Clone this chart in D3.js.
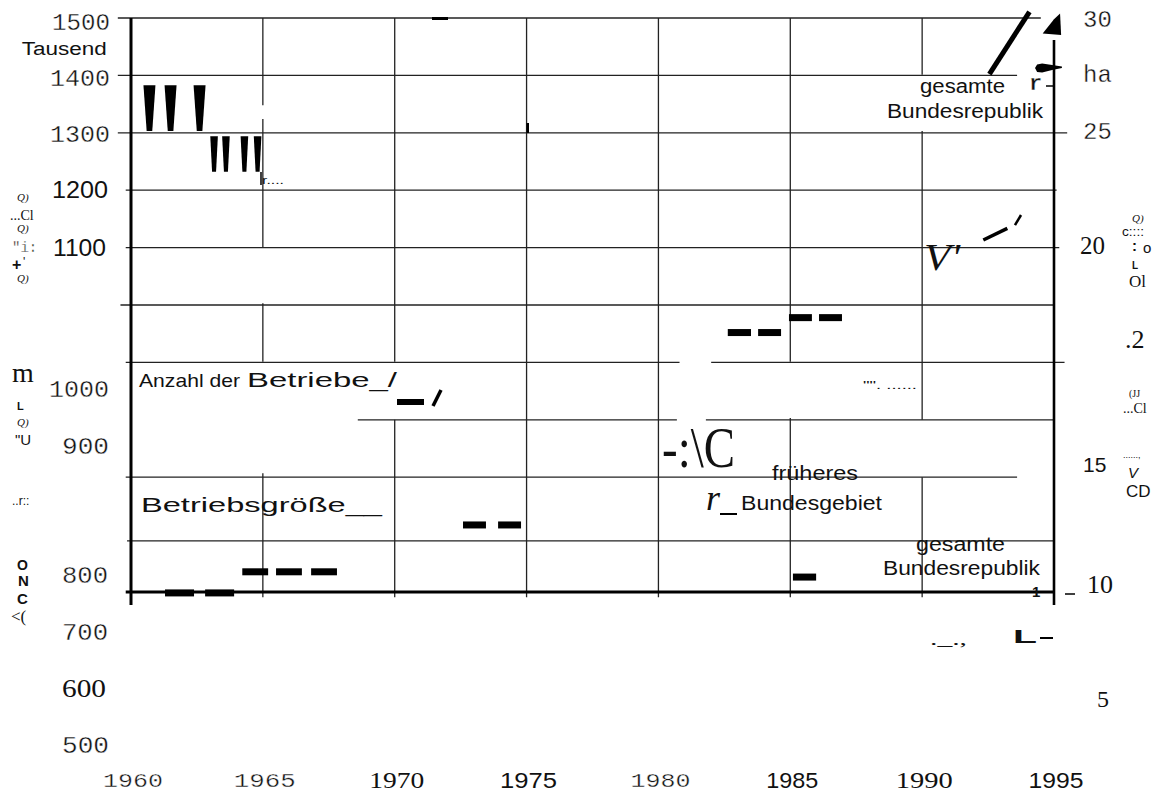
<!DOCTYPE html>
<html lang="de">
<head>
<meta charset="UTF-8">
<title>Betriebe und Betriebsgröße</title>
<script src="https://d3js.org/d3.v7.min.js"></script>
<style>
  body { margin: 0; background: #fff; }
  svg { display: block; }
  .grid line { stroke: #222; stroke-width: 1.3px; }
  .mono { font-family: "Liberation Mono", "DejaVu Sans Mono", monospace; stroke: #fff; stroke-width: 0.35px; }
  .sans { font-family: "Liberation Sans", Arial, sans-serif; }
  .serif { font-family: "Liberation Serif", "Times New Roman", serif; }
</style>
</head>
<body>
<svg width="1165" height="793"></svg>
<script>
// ---- data ----
var yearTicks = [1960, 1965, 1970, 1975, 1980, 1985, 1990, 1995];
var leftTicks = [1500, 1400, 1300, 1200, 1100, 1000, 900, 800, 700, 600, 500];   // Tausend
var rightTicks = [30, 25, 20, 15, 10, 5];                                         // ha

// Anzahl der Betriebe (Tausend) - wedge marks
var betriebeYears = [1960.7, 1961.5, 1962.6, 1963.15, 1963.6, 1964.3, 1964.8];
var betriebeHigh  = [1383, 1383, 1383, 1294, 1294, 1294, 1294];
var betriebeLow   = [1303, 1303, 1303, 1232, 1232, 1232, 1232];

// Betriebsgröße (ha) - dash marks
var groesseStart = [1961.29, 1962.81, 1964.22, 1965.5, 1966.83, 1972.59, 1973.92, 1982.63, 1983.78, 1984.95, 1986.09, 1985.1];
var groesseEnd   = [1962.39, 1963.91, 1965.2, 1966.48, 1967.81, 1973.46, 1974.79, 1983.51, 1984.65, 1985.82, 1986.96, 1985.98];
var groesseHa    = [4.96, 4.96, 5.88, 5.88, 5.88, 7.92, 7.92, 16.3, 16.3, 16.95, 16.95, 5.65];

// gesamte Bundesrepublik (ha) - stroke pieces
var gesamtFrom = [[1992.32, 20.33], [1993.52, 20.98], [1992.55, 27.56]];
var gesamtTo   = [[1993.23, 20.84], [1993.75, 21.42], [1994.07, 30.27]];
var gesamtHead = [[1994.57, 29.33], [1995.0, 29.95], [1995.23, 30.2], [1995.27, 29.26]];
var gesamtBlob = [[1994.28, 27.82], [1994.36, 27.975], [1994.55, 28.02], [1994.93, 27.95], [1995.3, 27.89],
                  [1995.3, 27.82], [1994.93, 27.74], [1994.55, 27.63], [1994.36, 27.65]];

// grid lines (value -> year ranges) and (year -> value ranges)
var hGridValues = [1500, 1400, 1300, 1200, 1100, 1000, 900, 800, 700, 589];
var hGridRanges = [
  [[1959.5, 1994.5]], [[1959.5, 1993.6]], [[1959.5, 1995.5]], [[1959.8, 1995.1]],
  [[1959.8, 1995.2]], [[1959.6, 1995]], [[1959.8, 1980.8], [1982.0, 1995.4]],
  [[1968.6, 1980.7], [1981.8, 1995]], [[1959.8, 1993.6]], [[1959.85, 1995]]
];
var vGridYears = [1965, 1970, 1975, 1980, 1985, 1990];
var vGridRanges = [
  [[1500, 1348], [1324, 1101], [1003, 901], [707, 491]],
  [[1500, 901], [800, 491]],
  [[1500, 491]],
  [[1500, 491]],
  [[1500, 901], [803, 491]],
  [[1500, 1401], [1303, 800], [700, 491]]
];

// ---- scales ----
var svg = d3.select("svg");
var x = d3.scaleLinear().domain([1960, 1995]).range([131, 1054]);
var yL = d3.scaleLinear().domain([500, 1500]).range([592, 18]);
var yR = d3.scaleLinear().domain([5, 30]).range([592, 18]);

function txt(px, py, s, cls, size, o) {
  o = o || {};
  var t = svg.append("text").attr("x", px).attr("y", py).attr("class", cls)
    .style("font-size", size + "px").attr("fill", "#111").text(s);
  if (o.anchor) t.attr("text-anchor", o.anchor);
  if (o.weight) t.style("font-weight", o.weight);
  if (o.italic) t.style("font-style", "italic");
  if (o.len) t.attr("textLength", o.len).attr("lengthAdjust", "spacingAndGlyphs");
  return t;
}

// ---- grid ----
var grid = svg.append("g").attr("class", "grid");
hGridValues.forEach(function (v, i) {
  hGridRanges[i].forEach(function (r) {
    grid.append("line").attr("x1", x(r[0])).attr("x2", x(r[1])).attr("y1", yL(v)).attr("y2", yL(v));
  });
});
vGridYears.forEach(function (yr, i) {
  vGridRanges[i].forEach(function (r) {
    grid.append("line").attr("x1", x(yr)).attr("x2", x(yr)).attr("y1", yL(r[0])).attr("y2", yL(r[1]));
  });
});

// axes
svg.append("line").attr("x1", x(1960)).attr("x2", x(1960)).attr("y1", yL(1500)).attr("y2", yL(500) + 13)
  .attr("stroke", "#000").attr("stroke-width", 3);
svg.append("line").attr("x1", x(1959.8)).attr("x2", x(1995)).attr("y1", yL(500)).attr("y2", yL(500))
  .attr("stroke", "#000").attr("stroke-width", 3.2);
svg.append("line").attr("x1", x(1995)).attr("x2", x(1995)).attr("y1", 40).attr("y2", yL(500) + 13)
  .attr("stroke", "#000").attr("stroke-width", 2.6);

// ---- tick labels ----
var leftFont = ["mono", "mono", "mono", "sans", "sans", "mono", "mono", "mono", "mono", "serif", "mono"];
var leftDrop = [12, 10.6, 9.2, 7.8, 8.4, 92, 91.6, 163, 163, 162.4, 161];
var leftEnd  = [110, 110, 110, 108, 106, 109, 109, 108, 108, 106, 109];
var leftLen  = [58, 60, 60, 56, 53, 60, 47, 46, 46, 44, 47];
leftTicks.forEach(function (v, i) {
  var f = leftFont[i];
  txt(leftEnd[i], yL(v) + leftDrop[i], v, f, f === "mono" ? 24 : (f === "sans" ? 23 : 25),
    { anchor: "end", len: leftLen[i] });
});

var rightFont = ["mono", "mono", "serif", "sans", "serif", "serif"];
var rightDrop = [9, 6.2, 6.4, 109.6, 115.8, 115];
var rightX    = [1083, 1083, 1080, 1083, 1087, 1097];
var rightSize = [24, 24, 25, 21, 26, 24];
rightTicks.forEach(function (v, i) {
  txt(rightX[i], yR(v) + rightDrop[i], v, rightFont[i], rightSize[i]);
});
txt(1083, 82, "ha", "mono", 24);

var yearFont = ["mono", "mono", "serif", "sans", "mono", "sans", "serif", "sans"];
var yearLen  = [60, 62, 55, 57, 60, 52, 57, 55];
yearTicks.forEach(function (yr, i) {
  var f = yearFont[i];
  txt(x(yr) + 2, f === "mono" ? 786.5 : 788, yr, f, f === "mono" ? 21 : (f === "sans" ? 22 : 23),
    { anchor: "middle", len: yearLen[i] });
});

// ---- marks: Anzahl der Betriebe wedges ----
svg.append("g").selectAll("path").data(betriebeYears).enter().append("path")
  .attr("d", function (yr, i) {
    var c = x(yr), t = yL(betriebeHigh[i]), b = yL(betriebeLow[i]);
    var wt = i < 3 ? 6 : 3.8, wb = i < 3 ? 2.8 : 2;
    return "M" + (c - wt) + "," + t + "L" + (c + wt) + "," + t + "L" + (c + wb) + "," + b + "L" + (c - wb) + "," + b + "Z";
  })
  .attr("fill", "#000");

// ---- marks: Betriebsgröße dashes ----
svg.append("g").selectAll("rect").data(groesseHa).enter().append("rect")
  .attr("x", function (d, i) { return x(groesseStart[i]); })
  .attr("width", function (d, i) { return x(groesseEnd[i]) - x(groesseStart[i]); })
  .attr("y", function (d) { return yR(d) - 3.5; })
  .attr("height", 7)
  .attr("fill", "#000");

// ---- marks: gesamte Bundesrepublik ----
var gw = [3.5, 2.5, 5];
gesamtFrom.forEach(function (p, i) {
  svg.append("line")
    .attr("x1", x(p[0])).attr("y1", yR(p[1]))
    .attr("x2", x(gesamtTo[i][0])).attr("y2", yR(gesamtTo[i][1]))
    .attr("stroke", "#000").attr("stroke-width", gw[i]);
});
var poly = d3.line().x(function (p) { return x(p[0]); }).y(function (p) { return yR(p[1]); }).curve(d3.curveLinearClosed);
svg.append("path").attr("d", poly(gesamtHead)).attr("fill", "#000");
svg.append("path").attr("d", poly(gesamtBlob)).attr("fill", "#000");

// ---- in-plot labels ----
txt(21.7, 55, "Tausend", "sans", 18, { len: 85 });
txt(139, 387, "Anzahl der", "sans", 19, { len: 101 });
txt(247, 387, "Betriebe_/", "sans", 20, { len: 150 });
svg.append("rect").attr("x", 397).attr("y", 399).attr("width", 27).attr("height", 6).attr("fill", "#000");
svg.append("line").attr("x1", 433).attr("y1", 406).attr("x2", 441).attr("y2", 390).attr("stroke", "#000").attr("stroke-width", 3.5);
txt(141, 512, "Betriebsgröße__", "sans", 21, { len: 241 });

txt(662, 467, "-:\\C", "serif", 56, { len: 73 });
txt(772, 480, "früheres", "sans", 20, { len: 86 });
txt(706, 510, "r", "serif", 36, { italic: true });
svg.append("line").attr("x1", 720).attr("x2", 737).attr("y1", 514).attr("y2", 514).attr("stroke", "#000").attr("stroke-width", 2);
txt(741, 510, "Bundesgebiet", "sans", 20, { len: 141 });
txt(863, 389, "\"\". ......", "sans", 11, { len: 54 });

txt(916, 551, "gesamte", "sans", 20, { len: 89 });
txt(883, 575, "Bundesrepublik", "sans", 20, { len: 157 });
txt(920, 93, "gesamte", "sans", 20, { len: 85 });
txt(887, 118, "Bundesrepublik", "sans", 20, { len: 156 });
txt(1029, 90, "r", "mono", 22, { weight: "bold" });
svg.append("line").attr("x1", 1046).attr("x2", 1054).attr("y1", 86).attr("y2", 86).attr("stroke", "#000").attr("stroke-width", 1.5);

txt(924, 270, "V'", "serif", 38, { italic: true, len: 36 });

svg.append("line").attr("x1", 261).attr("x2", 261).attr("y1", 172).attr("y2", 185).attr("stroke", "#000").attr("stroke-width", 1.5);
txt(262, 184, "r....", "sans", 10, { len: 22 });
svg.append("rect").attr("x", 432).attr("y", 17).attr("width", 16).attr("height", 3).attr("fill", "#000");
svg.append("rect").attr("x", 526.5).attr("y", 123).attr("width", 2.5).attr("height", 10).attr("fill", "#000");

// ---- margin glyphs ----
txt(17, 201, "Q)", "serif", 11, { italic: true });
txt(10, 220, "...Cl", "serif", 14);
txt(17, 232, "Q)", "serif", 11, { italic: true });
txt(12, 252, "\"i:", "mono", 14);
txt(12, 270, "+", "sans", 16, { weight: "bold" });
txt(23, 266, "'", "sans", 12);
txt(17, 282, "Q)", "serif", 11, { italic: true });
txt(12, 382, "m", "serif", 28);
txt(17, 410, "L", "sans", 11, { weight: "bold" });
txt(17, 426, "Q)", "serif", 11, { italic: true });
txt(15, 445, "\"U", "sans", 15);
txt(12, 505, "..r::", "sans", 12);
txt(17, 570, "O", "sans", 14, { weight: "bold" });
txt(18, 586, "N", "sans", 15, { weight: "bold" });
txt(17, 604, "C", "sans", 15, { weight: "bold" });
txt(11, 622, "<(", "serif", 17);

txt(1132, 222, "Q)", "serif", 11, { italic: true });
txt(1122, 236, "c::::", "sans", 12, { len: 22 });
txt(1132, 251, ":", "sans", 15, { weight: "bold" });
txt(1143, 253, "o", "sans", 15);
txt(1132, 269, "L", "sans", 10, { weight: "bold" });
txt(1129, 287, "Ol", "serif", 17);
txt(1125, 348, ".2", "serif", 26);
txt(1129, 397, "(JJ", "serif", 10);
txt(1123, 413, "...Cl", "serif", 14);
txt(1123, 458, "......,", "sans", 9);
txt(1128, 478, "V", "sans", 15, { italic: true });
txt(1126, 497, "CD", "sans", 17);

txt(930, 645, "._.,", "serif", 16, { len: 37 });
txt(1013, 643, "L", "sans", 19, { weight: "bold", len: 24 });
svg.append("line").attr("x1", 1040).attr("x2", 1053).attr("y1", 638).attr("y2", 638).attr("stroke", "#000").attr("stroke-width", 2);
txt(1032, 597, "1", "sans", 15, { weight: "bold" });
svg.append("line").attr("x1", 1065).attr("x2", 1075).attr("y1", 594).attr("y2", 594).attr("stroke", "#000").attr("stroke-width", 1.5);
</script>
</body>
</html>
